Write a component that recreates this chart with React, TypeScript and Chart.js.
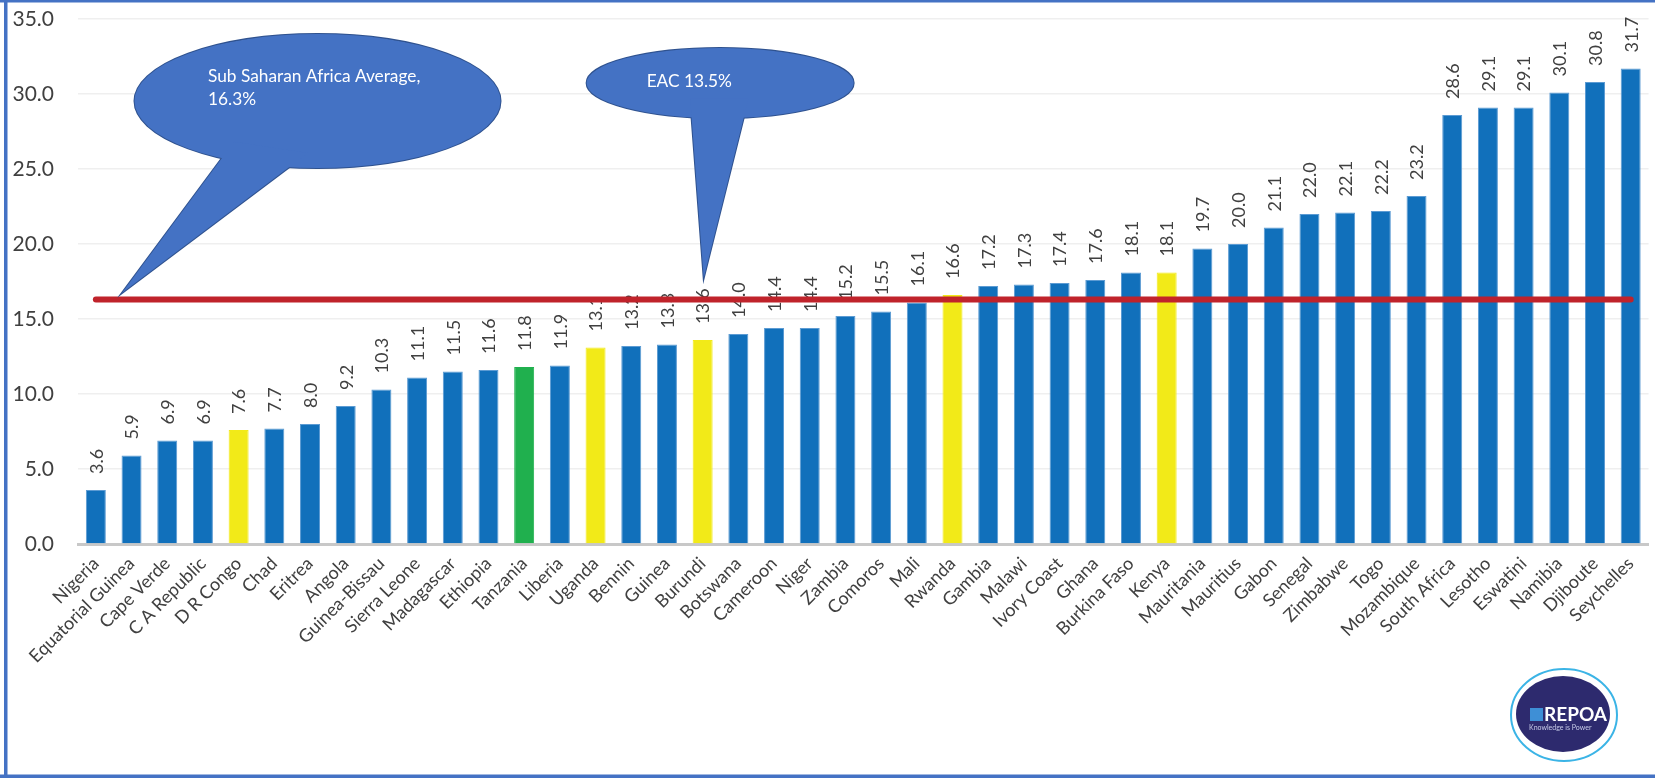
import React, { useEffect, useRef } from "react";
import { Chart, registerables } from "chart.js";

Chart.register(...registerables);

const countries = [
  "Nigeria", "Equatorial Guinea", "Cape Verde", "C A Republic", "D R Congo", "Chad", "Eritrea", "Angola",
  "Guinea-Bissau", "Sierra Leone", "Madagascar", "Ethiopia", "Tanzania", "Liberia", "Uganda", "Bennin",
  "Guinea", "Burundi", "Botswana", "Cameroon", "Niger", "Zambia", "Comoros", "Mali", "Rwanda", "Gambia",
  "Malawi", "Ivory Coast", "Ghana", "Burkina Faso", "Kenya", "Mauritania", "Mauritius", "Gabon", "Senegal",
  "Zimbabwe", "Togo", "Mozambique", "South Africa", "Lesotho", "Eswatini", "Namibia", "Djiboute", "Seychelles",
];

const values = [
  3.6, 5.9, 6.9, 6.9, 7.6, 7.7, 8.0, 9.2, 10.3, 11.1, 11.5, 11.6, 11.8, 11.9, 13.1, 13.2, 13.3, 13.6,
  14.0, 14.4, 14.4, 15.2, 15.5, 16.1, 16.6, 17.2, 17.3, 17.4, 17.6, 18.1, 18.1, 19.7, 20.0, 21.1, 22.0,
  22.1, 22.2, 23.2, 28.6, 29.1, 29.1, 30.1, 30.8, 31.7,
];

const eacOthers = ["D R Congo", "Uganda", "Burundi", "Rwanda", "Kenya"];
const focusCountry = ["Tanzania"];

const yTickValues = [0, 5, 10, 15, 20, 25, 30, 35];
const SSA_AVERAGE = 16.3;

const callouts = [
  {
    lines: ["Sub Saharan Africa Average,", "16.3%"],
    cx: 6.21, cy: 29.53, rx: 183, ry: 67,
    tipX: 0.73, tipY: 16.73,
    base: [[-95.5, 57], [-29.5, 67]],
    textDx: -109.5, textDy: -19, lineGap: 23,
  },
  {
    lines: ["EAC 13.5%"],
    cx: 17.49, cy: 30.73, rx: 133.5, ry: 35,
    tipX: 17.03, tipY: 17.73,
    base: [[-28.5, 35], [23.5, 35]],
    textDx: -73.5, textDy: 4, lineGap: 23,
  },
];

const BLUE = "#1170BB";
const YELLOW = "#F2EA18";
const GREEN = "#20B04E";
const FONT = "Lato, 'Open Sans', sans-serif";

const barColor = (c: string) =>
  focusCountry.includes(c) ? GREEN : eacOthers.includes(c) ? YELLOW : BLUE;
const barBorder = (c: string) =>
  focusCountry.includes(c) ? GREEN : eacOthers.includes(c) ? YELLOW : "#5C9BD3";

const framePlugin = {
  id: "frame",
  beforeDraw(chart: any) {
    const { ctx, width, height } = chart;
    ctx.save();
    ctx.fillStyle = "#FFFFFF";
    ctx.fillRect(0, 0, width, height);
    ctx.fillStyle = "#4472C4";
    ctx.fillRect(0, 0, width, 2.5);
    ctx.fillRect(4, 0, 3.5, height);
    ctx.fillRect(0, height - 3.5, width, 3.5);
    ctx.restore();
  },
};

const dataLabelPlugin = {
  id: "dataLabels",
  afterDatasetsDraw(chart: any) {
    const { ctx } = chart;
    const meta = chart.getDatasetMeta(0);
    ctx.save();
    ctx.font = `18px ${FONT}`;
    ctx.fillStyle = "#404040";
    ctx.textAlign = "left";
    ctx.textBaseline = "middle";
    meta.data.forEach((bar: any, i: number) => {
      ctx.save();
      ctx.translate(bar.x + 1, bar.y - 16);
      ctx.rotate(-Math.PI / 2);
      ctx.fillText(values[i].toFixed(1), 0, 0);
      ctx.restore();
    });
    ctx.restore();
  },
};

const averageLinePlugin = {
  id: "averageLine",
  afterDatasetsDraw(chart: any) {
    const { ctx, scales } = chart;
    const x0 = scales.x.getPixelForValue(0);
    const x1 = scales.x.getPixelForValue(countries.length - 1);
    const y = scales.y.getPixelForValue(SSA_AVERAGE);
    ctx.save();
    ctx.strokeStyle = "#C0232B";
    ctx.lineWidth = 6;
    ctx.lineCap = "round";
    ctx.beginPath();
    ctx.moveTo(x0, y);
    ctx.lineTo(x1, y);
    ctx.stroke();
    ctx.restore();
  },
};

const calloutPlugin = {
  id: "callouts",
  afterDraw(chart: any) {
    const { ctx, scales } = chart;
    callouts.forEach((c) => {
      const cx = scales.x.getPixelForValue(c.cx);
      const cy = scales.y.getPixelForValue(c.cy);
      const tx = scales.x.getPixelForValue(c.tipX);
      const ty = scales.y.getPixelForValue(c.tipY);
      const bases = c.base.map(([dx, dy]) => {
        const bx = cx + dx;
        const by = cy + dy;
        return [tx + (bx - tx) * 1.12, ty + (by - ty) * 1.12];
      });
      const ellipse = () => {
        ctx.beginPath();
        ctx.ellipse(cx, cy, c.rx, c.ry, 0, 0, Math.PI * 2);
      };
      const tail = () => {
        ctx.beginPath();
        ctx.moveTo(bases[0][0], bases[0][1]);
        ctx.lineTo(tx, ty);
        ctx.lineTo(bases[1][0], bases[1][1]);
        ctx.closePath();
      };
      ctx.save();
      ctx.strokeStyle = "#2F528F";
      ctx.lineWidth = 2;
      ctx.lineJoin = "miter";
      ellipse();
      ctx.stroke();
      tail();
      ctx.stroke();
      ctx.fillStyle = "#4472C4";
      ellipse();
      ctx.fill();
      tail();
      ctx.fill();
      ctx.fillStyle = "#FFFFFF";
      ctx.font = `17.3px ${FONT}`;
      ctx.textAlign = "left";
      ctx.textBaseline = "alphabetic";
      c.lines.forEach((line, i) => {
        ctx.fillText(line, cx + c.textDx, cy + c.textDy + i * c.lineGap);
      });
      ctx.restore();
    });
  },
};

const logoPlugin = {
  id: "logo",
  afterDraw(chart: any) {
    const { ctx, width, height } = chart;
    const cx = width - 92;
    const cy = height - 64;
    ctx.save();
    ctx.strokeStyle = "#3BB4E6";
    ctx.lineWidth = 2;
    ctx.beginPath();
    ctx.ellipse(cx + 1, cy + 1, 53, 46, 0, 0, Math.PI * 2);
    ctx.stroke();
    ctx.fillStyle = "#2D2A6E";
    ctx.beginPath();
    ctx.ellipse(cx, cy, 47, 38, 0, 0, Math.PI * 2);
    ctx.fill();
    ctx.fillStyle = "#3E8FD6";
    ctx.fillRect(cx - 33, cy - 6, 13, 13);
    ctx.fillStyle = "#FFFFFF";
    ctx.font = `bold 19px ${FONT}`;
    ctx.textAlign = "left";
    ctx.textBaseline = "alphabetic";
    ctx.fillText("REPOA", cx - 19, cy + 7);
    ctx.font = `7px ${FONT}`;
    ctx.fillStyle = "#C8CCE8";
    ctx.fillText("Knowledge is Power", cx - 34, cy + 16);
    ctx.restore();
  },
};

export default function App() {
  const canvasRef = useRef<HTMLCanvasElement | null>(null);

  useEffect(() => {
    document.body.style.margin = "0";
    const canvas = canvasRef.current;
    if (!canvas) return;
    const chart = new Chart(canvas, {
      type: "bar",
      data: {
        labels: countries,
        datasets: [
          {
            data: values,
            backgroundColor: countries.map(barColor),
            borderColor: countries.map(barBorder),
            borderWidth: 1,
            categoryPercentage: 1,
            barPercentage: 0.56,
          },
        ],
      },
      options: {
        animation: false,
        responsive: true,
        maintainAspectRatio: false,
        layout: { padding: { left: 0, right: 3, top: 19, bottom: 0 } },
        plugins: {
          legend: { display: false },
          tooltip: { enabled: false },
          title: { display: false },
        },
        scales: {
          x: {
            grid: { display: false, drawTicks: false },
            border: { display: true, color: "#C8C8C8", width: 3 },
            ticks: {
              autoSkip: false,
              minRotation: 45,
              maxRotation: 45,
              padding: 9,
              color: "#404040",
              font: { family: FONT, size: 18 },
            },
            afterFit(scale: any) {
              scale.height = 234;
            },
          },
          y: {
            min: 0,
            max: 35,
            afterBuildTicks(scale: any) {
              scale.ticks = yTickValues.map((v) => ({ value: v }));
            },
            grid: {
              color: "#EFEFEF",
              lineWidth: 1.5,
              drawTicks: true,
              tickLength: 24,
              tickColor: "rgba(0,0,0,0)",
            },
            border: { display: false },
            ticks: {
              padding: 0,
              color: "#404040",
              font: { family: FONT, size: 21 },
              callback: (v: any) => Number(v).toFixed(1),
            },
            afterFit(scale: any) {
              scale.width = 78;
            },
          },
        },
      },
      plugins: [framePlugin, dataLabelPlugin, averageLinePlugin, calloutPlugin, logoPlugin],
    });
    return () => chart.destroy();
  }, []);

  return (
    <div style={{ position: "absolute", left: 0, top: 0, width: 1655, height: 778, background: "#fff" }}>
      <canvas ref={canvasRef} />
    </div>
  );
}
